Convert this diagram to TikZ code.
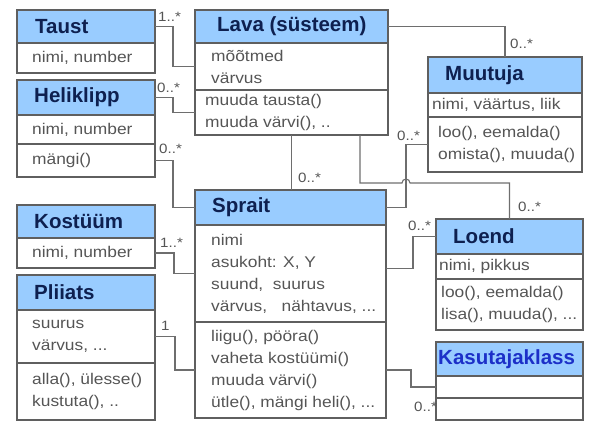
\documentclass[tikz,border=0pt]{standalone}
\usepackage{fontspec}
\setmainfont{Liberation Sans}
\newfontfamily\bodyfont[FakeStretch=1.12]{Liberation Sans}
\definecolor{hdrfill}{RGB}{153,204,255}
\definecolor{hdrtext}{RGB}{14,32,80}
\definecolor{usertext}{RGB}{28,48,200}
\definecolor{bodytext}{RGB}{85,85,85}
\definecolor{boxline}{RGB}{95,95,95}
\definecolor{connc}{RGB}{110,110,110}
\tikzset{
  part/.style={draw=boxline, line width=1.1pt, anchor=north west,
    inner sep=0pt, outer sep=0pt},
  hdr/.style={part, fill=hdrfill},
  htxt/.style={anchor=west, inner sep=0pt, text=hdrtext,
    font=\bfseries\fontsize{20.5}{22}\selectfont},
  btxt/.style={anchor=west, inner sep=0pt, align=left, text=bodytext,
    font=\bodyfont\fontsize{15.5}{22}\selectfont},
  conn/.style={draw=connc, line width=1.1pt},
  mult/.style={anchor=west, inner sep=0pt, text=bodytext,
    font=\bodyfont\fontsize{13.5}{14}\selectfont},
}
\begin{document}
\begin{tikzpicture}[x=1pt,y=-1pt]
\useasboundingbox (0,0) rectangle (609,424);

% --- Taust
\node[hdr, minimum width=138pt, minimum height=33pt] (taushdr) at (17,10) {};
\node[part, minimum width=138pt, minimum height=30pt] (tausattr) at (17,43) {};
\node[htxt] (tausname) at ([xshift=18pt]taushdr.west) {Taust};
\node[btxt] (taustxt) at ([xshift=15pt]tausattr.west) {nimi, number};

% --- Heliklipp
\node[hdr, minimum width=138pt, minimum height=35pt] (helihdr) at (17,80) {};
\node[part, minimum width=138pt, minimum height=29pt] (heliattr) at (17,115) {};
\node[part, minimum width=138pt, minimum height=33pt] (heliops) at (17,144) {};
\node[htxt] (heliname) at ([xshift=17pt]helihdr.west) {Heliklipp};
\node[btxt] (helitxta) at ([xshift=15pt]heliattr.west) {nimi, number};
\node[btxt] (helitxto) at ([xshift=15pt]heliops.west) {mängi()};

% --- Kostüüm
\node[hdr, minimum width=138pt, minimum height=33pt] (kosthdr) at (17,205) {};
\node[part, minimum width=138pt, minimum height=30pt] (kostattr) at (17,238) {};
\node[htxt] (kostname) at ([xshift=17pt]kosthdr.west) {Kostüüm};
\node[btxt] (kosttxt) at ([xshift=15pt]kostattr.west) {nimi, number};

% --- Pliiats
\node[hdr, minimum width=138pt, minimum height=35pt] (plihdr) at (17,275) {};
\node[part, minimum width=138pt, minimum height=53pt] (pliattr) at (17,310) {};
\node[part, minimum width=138pt, minimum height=57pt] (pliops) at (17,363) {};
\node[htxt] (pliname) at ([xshift=17pt]plihdr.west) {Pliiats};
\node[btxt] (plitxta) at ([xshift=15pt]pliattr.west) {suurus\\värvus, ...};
\node[btxt] (plitxto) at ([xshift=15pt]pliops.west) {alla(), ülesse()\\kustuta(), ..};

% --- Lava (süsteem)
\node[hdr, minimum width=193pt, minimum height=33pt] (lavahdr) at (195,10) {};
\node[part, minimum width=193pt, minimum height=47pt] (lavaattr) at (195,43) {};
\node[part, minimum width=193pt, minimum height=45pt] (lavaops) at (195,90) {};
\node[htxt] (lavaname) at ([xshift=22pt]lavahdr.west) {Lava (süsteem)};
\node[btxt] (lavatxta) at ([xshift=16pt]lavaattr.west) {mõõtmed\\värvus};
\node[btxt] (lavatxto) at ([xshift=10pt]lavaops.west) {muuda tausta()\\muuda värvi(), ..};

% --- Muutuja
\node[hdr, minimum width=154pt, minimum height=36pt] (muuthdr) at (428,57) {};
\node[part, minimum width=154pt, minimum height=24pt] (muutattr) at (428,93) {};
\node[part, minimum width=154pt, minimum height=55pt] (muutops) at (428,117) {};
\node[htxt] (muutname) at ([xshift=17pt]muuthdr.west) {Muutuja};
\node[btxt] (muuttxta) at ([xshift=4pt]muutattr.west) {nimi, väärtus, liik};
\node[btxt] (muuttxto) at ([xshift=10pt]muutops.west) {loo(), eemalda()\\omista(), muuda()};

% --- Sprait
\node[hdr, minimum width=191pt, minimum height=35pt] (sprhdr) at (195,190) {};
\node[part, minimum width=191pt, minimum height=97pt] (sprattr) at (195,225) {};
\node[part, minimum width=191pt, minimum height=96pt] (sprops) at (195,322) {};
\node[htxt] (sprname) at ([xshift=17pt]sprhdr.west) {Sprait};
\node[btxt] (sprtxta) at ([xshift=16pt]sprattr.west)
  {nimi\\asukoht: X, Y\\suund,\ \ suurus\\värvus,\ \ \ nähtavus, ...};
\node[btxt] (sprtxto) at ([xshift=16pt]sprops.west)
  {liigu(), pööra()\\vaheta kostüümi()\\muuda värvi()\\ütle(), mängi heli(), ...};

% --- Loend
\node[hdr, minimum width=147pt, minimum height=35pt] (loendhdr) at (436,219) {};
\node[part, minimum width=147pt, minimum height=25pt] (loendattr) at (436,254) {};
\node[part, minimum width=147pt, minimum height=51pt] (loendops) at (436,279) {};
\node[htxt] (loendname) at ([xshift=17pt]loendhdr.west) {Loend};
\node[btxt] (loendtxta) at ([xshift=3pt]loendattr.west) {nimi, pikkus};
\node[btxt] (loendtxto) at ([xshift=5pt]loendops.west) {loo(), eemalda()\\lisa(), muuda(), ...};

% --- Kasutajaklass
\node[hdr, minimum width=147pt, minimum height=34pt] (kasuhdr) at (436,342) {};
\node[part, minimum width=147pt, minimum height=22pt] (kasuone) at (436,376) {};
\node[part, minimum width=147pt, minimum height=22pt] (kasutwo) at (436,398) {};
\node[htxt, text=usertext] (kasuname) at ([xshift=2pt]kasuhdr.west) {Kasutajaklass};

% --- associations
\coordinate (sprbend) at ([xshift=20pt]sprhdr.east);
\coordinate (lavadrop) at ([xshift=68.5pt]lavaops.south);
\coordinate (hopmid) at (sprbend |- 0,183);

\draw[conn] (taushdr.east) -- ++(18,0) |- (lavaattr.west);
\draw[conn] (helihdr.east) -- ++(18,0) |- (lavaops.west);
\draw[conn] (heliops.east) -- ++(18,0) |- (sprhdr.west);
\draw[conn] (kostattr.east) -- ++(19,0) |- (sprattr.west);
\draw[conn] (pliattr.east) -- ++(20,0) |- (sprops.west);
\draw[conn] (lavaops.south) -- (lavaops.south |- sprhdr.north);
\draw[conn] (lavahdr.east) -| (muuthdr.north);
\draw[conn] (sprhdr.east) -- (sprbend) |- (muutops.west);
\draw[conn] (lavadrop) |- ([xshift=-4pt]hopmid)
  arc[start angle=180, end angle=0, radius=4pt] -| (loendhdr.north);
\draw[conn] ([yshift=5pt]sprattr.east) -- ++(27,0) |- (loendhdr.west);
\draw[conn] (sprops.east) -- ++(25,0) |- (kasuone.west);

% --- multiplicities
\node[mult] (mtaus) at (158,17) {1..*};
\node[mult] (mheli) at (157,88) {0..*};
\node[mult] (mhelispr) at (159,149) {0..*};
\node[mult] (mkost) at (160,243) {1..*};
\node[mult] (mpli) at (161,326) {1};
\node[mult] (mlavaspr) at (298,178) {0..*};
\node[mult] (mlavamuut) at (510,44) {0..*};
\node[mult] (mlavaloend) at (518,207) {0..*};
\node[mult] (msprmuut) at (397,136) {0..*};
\node[mult] (msprloend) at (408,226) {0..*};
\node[mult] (mkasu) at (414,407) {0..*};
\end{tikzpicture}
\end{document}
